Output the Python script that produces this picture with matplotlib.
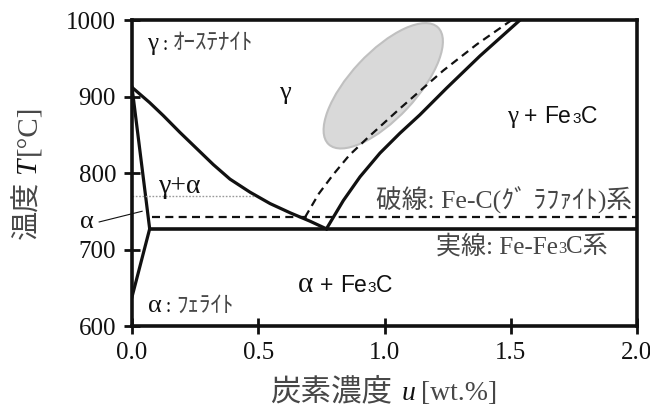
import matplotlib
matplotlib.use('Agg')
import matplotlib.pyplot as plt
from matplotlib.patches import Ellipse
from matplotlib.transforms import IdentityTransform

SERIF = 'Liberation Serif'
SANS = 'Liberation Sans'
JP = 'Noto Sans CJK JP'

plt.rcParams['font.family'] = [SERIF, JP]

# --- Fe-C phase boundaries (u in wt.%, T in degC) ---
# A3: gamma / gamma+alpha
a3_u = [0.0, 0.07, 0.124, 0.19, 0.256, 0.322, 0.388, 0.467, 0.547, 0.626, 0.705, 0.77]
a3_T = [912, 892, 875, 853, 832, 811, 792, 775, 760, 748, 737, 727]
# Acm: gamma / gamma+Fe3C (Fe-Fe3C system)
acm_u = [0.77, 0.837, 0.903, 0.982, 1.061, 1.14, 1.246, 1.378, 1.537]
acm_T = [727, 764, 795, 826, 852, 876, 911, 953, 1000]
# Acm for the Fe-C (graphite) system
acm_gr_u = [0.685, 0.74, 0.797, 0.86, 0.93, 1.06, 1.233, 1.365, 1.504]
acm_gr_T = [742, 773, 798, 823, 845, 884, 934, 968, 1000]
# alpha solvus (exaggerated)
alpha_u = [0.0, 0.07, 0.0]
alpha_T = [912, 727, 638]

u_alpha_max = 0.07   # max carbon in ferrite
A1 = 727             # eutectoid, Fe-Fe3C
A1_gr = 742          # eutectoid, Fe-C graphite
A1_gr_start = 0.078
A2 = 770             # magnetic transition
A2_end = 0.487

xticks = [0.0, 0.5, 1.0, 1.5, 2.0]
yticks = [600, 700, 800, 900, 1000]

fig = plt.figure(figsize=(6.5, 4.15), dpi=100)
ax = fig.add_axes([132 / 650, 89 / 415, 505 / 650, 306 / 415])
ax.set_xlim(0, 2)
ax.set_ylim(600, 1000)

ink = '#111111'
lw = 2.3
ax.plot(a3_u, a3_T, color=ink, lw=lw, solid_joinstyle='round')
ax.plot(acm_u, acm_T, color=ink, lw=lw, solid_joinstyle='round')
ax.plot(alpha_u, alpha_T, color=ink, lw=lw, solid_joinstyle='miter')
ax.plot([u_alpha_max, 2.0], [A1, A1], color=ink, lw=2.6)
ax.plot(acm_gr_u, acm_gr_T, color=ink, lw=1.6, dashes=(3.6, 2.4))
ax.plot([A1_gr_start, 2.0], [A1_gr, A1_gr], color=ink, lw=1.6, dashes=(3.6, 2.4))
ax.plot([0.0, A2_end], [A2, A2], color='#999999', lw=1.0, dashes=(1.2, 1.2))

# shaded blob in the gamma field
ecx, ecy = ax.transData.transform((0.995, 914))
ax.add_patch(Ellipse((ecx, ecy), 160, 66, angle=47, transform=IdentityTransform(),
                     facecolor='#d9d9d9', edgecolor='#c0c0c0', lw=1.5, zorder=1))

for s in ax.spines.values():
    s.set_linewidth(2.6)
    s.set_color(ink)
ax.set_xticks(xticks)
ax.set_xticklabels([f'{v:.1f}' for v in xticks])
ax.set_yticks(yticks)
ax.tick_params(direction='inout', length=11, width=2, labelsize=18, pad=6,
               colors=ink)


def rich_text(x, y, parts, rotation=0, align='center'):
    """Place text pieces with different fonts side by side (display px)."""
    r = fig.canvas.get_renderer()
    arts, steps = [], []
    for s, kw, gap in parts:
        t = fig.text(0, 0, s, rotation=rotation, rotation_mode='anchor',
                     ha='left', va='baseline', transform=IdentityTransform(), **kw)
        bb = t.get_window_extent(r)
        arts.append(t)
        steps.append((gap, bb.height if rotation else bb.width))
    total = sum(g + w for g, w in steps)
    pos = {'left': 0, 'center': -total / 2, 'right': -total}[align]
    for t, (g, w) in zip(arts, steps):
        pos += g
        t.set_position((x, y + pos) if rotation else (x + pos, y))
        pos += w


def at(u, T):
    return ax.transData.transform((u, T))


def f(size, family=SERIF, style='normal', color=ink):
    return dict(fontsize=size, family=family, style=style, color=color)


gray = '#474747'

# axis labels
rich_text(384, 15, [('炭素濃度', f(22, JP, color=gray), 0),
                    ('u', f(20, style='italic'), 9),
                    ('[wt.%]', f(20, color=gray), 6)])
rich_text(35, 243, [('温度', f(21, JP, color=gray), 0),
                    ('T', f(21, style='italic'), 7),
                    ('[°C]', f(21, color=gray), 3)], rotation=90)

# phase field labels
rich_text(*at(0.06, 961), [('γ', f(18), 0), (':', f(13, JP), 4),
                           ('ｵｰｽﾃﾅｲﾄ', f(16.5, JP, color=gray), 5)], align='left')
rich_text(*at(0.063, 618), [('α', f(19), 0), (':', f(13, JP), 4),
                            ('ﾌｪﾗｲﾄ', f(16.5, JP, color=gray), 5)], align='left')
ax.text(0.606, 905, 'γ', ha='center', va='center', fontsize=19, color=ink)
ax.text(0.19, 783, 'γ+α', ha='center', va='center', fontsize=20, color=ink)
ax.text(-0.178, 736, 'α', ha='center', va='center', fontsize=19, color=ink, clip_on=False)
ax.plot([-0.13, 0.04], [736, 750], color=ink, lw=0.8, clip_on=False)

rich_text(*at(0.844, 644), [('α', f(21), 0), ('+', f(16.5, SANS), 7), ('Fe', f(16.5, SANS), 7),
                            ('3', f(11, SANS), 1), ('C', f(16.5, SANS), 0)])
rich_text(*at(1.663, 865), [('γ', f(18), 0), ('+', f(16.5, SANS), 6), ('Fe', f(16.5, SANS), 7),
                            ('3', f(11, SANS), 1), ('C', f(16.5, SANS), 0)])

ax.text(1.98, 754, '破線: Fe-C(ｸﾞ ﾗﾌｧｲﾄ)系', ha='right', va='baseline',
        fontsize=18.5, color=gray, family=[SERIF, JP])
rich_text(*at(1.885, 695), [('実線: Fe-Fe', f(18, [SERIF, JP], color=gray), 0),
                            ('3', f(12, color=gray), 0),
                            ('C系', f(18, [SERIF, JP], color=gray), 0)], align='right')

fig.savefig('out.png', dpi=100)
